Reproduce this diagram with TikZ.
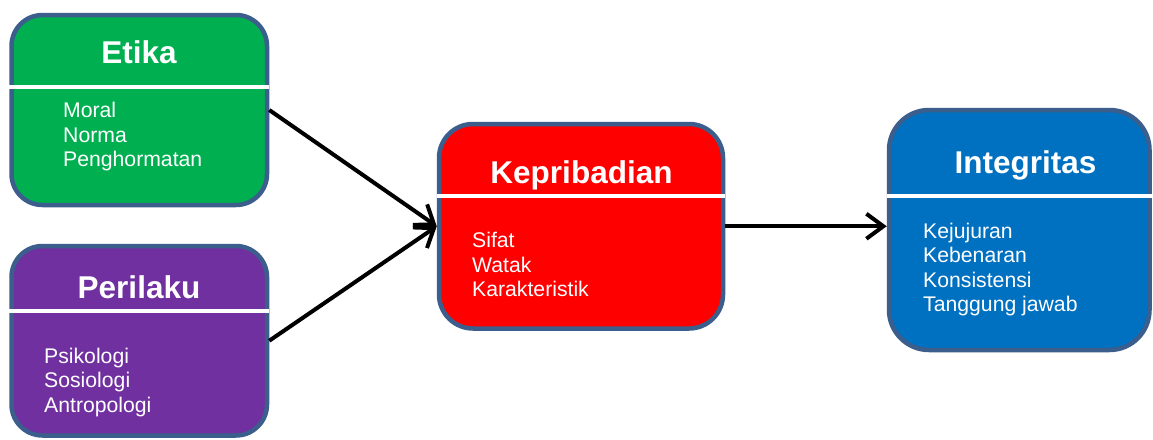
\documentclass[tikz,border=0pt]{standalone}
\usepackage{fontspec}
\setmainfont{Liberation Sans}
\usetikzlibrary{arrows.meta}
\definecolor{bordc}{HTML}{3B5E8C}
\definecolor{cgreen}{HTML}{00B050}
\definecolor{cpurple}{HTML}{7030A0}
\definecolor{cred}{HTML}{FF0000}
\definecolor{cblue}{HTML}{0070C0}
\begin{document}
\begin{tikzpicture}[x=1pt,y=-1pt,
  card/.style={draw=bordc, line width=4.5pt, rectangle, inner sep=0pt},
  sepline/.style={draw=white, line width=4pt},
  titletext/.style={text=white, font=\fontsize{31.5}{36}\selectfont\bfseries, inner sep=0pt, anchor=base},
  listtext/.style={text=white, font=\fontsize{21.2}{24.4}\selectfont, inner sep=0pt, anchor=north west, align=left},
  flow/.style={draw=black, line width=4pt, -{Straight Barb[length=17pt,width=25pt,line width=4pt]}}]
\useasboundingbox (0,0) rectangle (1153,439);
% boxes
\node[card, fill=cgreen, rounded corners=31pt, minimum width=255.5pt, minimum height=190pt] (etika) at (139.25,110) {};
\node[card, fill=cpurple, rounded corners=31pt, minimum width=255.5pt, minimum height=189.5pt] (perilaku) at (139.25,340.75) {};
\node[card, fill=cred, rounded corners=34pt, minimum width=284pt, minimum height=204.5pt] (kep) at (581,226.25) {};
\node[card, fill=cblue, rounded corners=40pt, minimum width=260.5pt, minimum height=240pt] (integ) at (1019.25,230) {};
% separators
\draw[sepline] (etika.west |- 0,87) -- (etika.east |- 0,87);
\draw[sepline] (perilaku.west |- 0,310.5) -- (perilaku.east |- 0,310.5);
\draw[sepline] (kep.west |- 0,196) -- (kep.east |- 0,196);
\draw[sepline] (integ.west |- 0,196) -- (integ.east |- 0,196);
% titles
\node[titletext] (tetika) at (139,63.3) {Etika};
\node[titletext] (tperilaku) at (139,298.3) {Perilaku};
\node[titletext] (tkep) at (581.5,183.3) {Kepribadian};
\node[titletext] (tinteg) at (1025.5,173.3) {Integritas};
% lists
\node[listtext] (letika) at (63,102.3) {Moral\\Norma\\Penghormatan};
\node[listtext] (lperilaku) at (44,347.8) {Psikologi\\Sosiologi\\Antropologi};
\node[listtext] (lkep) at (472,232.3) {Sifat\\Watak\\Karakteristik};
\node[listtext] (linteg) at (923,222.8) {Kejujuran\\Kebenaran\\Konsistensi\\Tanggung jawab};
% connectors
\draw[flow] (etika.east) -- (kep.west);
\draw[flow] (perilaku.east) -- (kep.west);
\draw[flow] (kep.east) -- (kep.east -| integ.west);
\end{tikzpicture}
\end{document}
